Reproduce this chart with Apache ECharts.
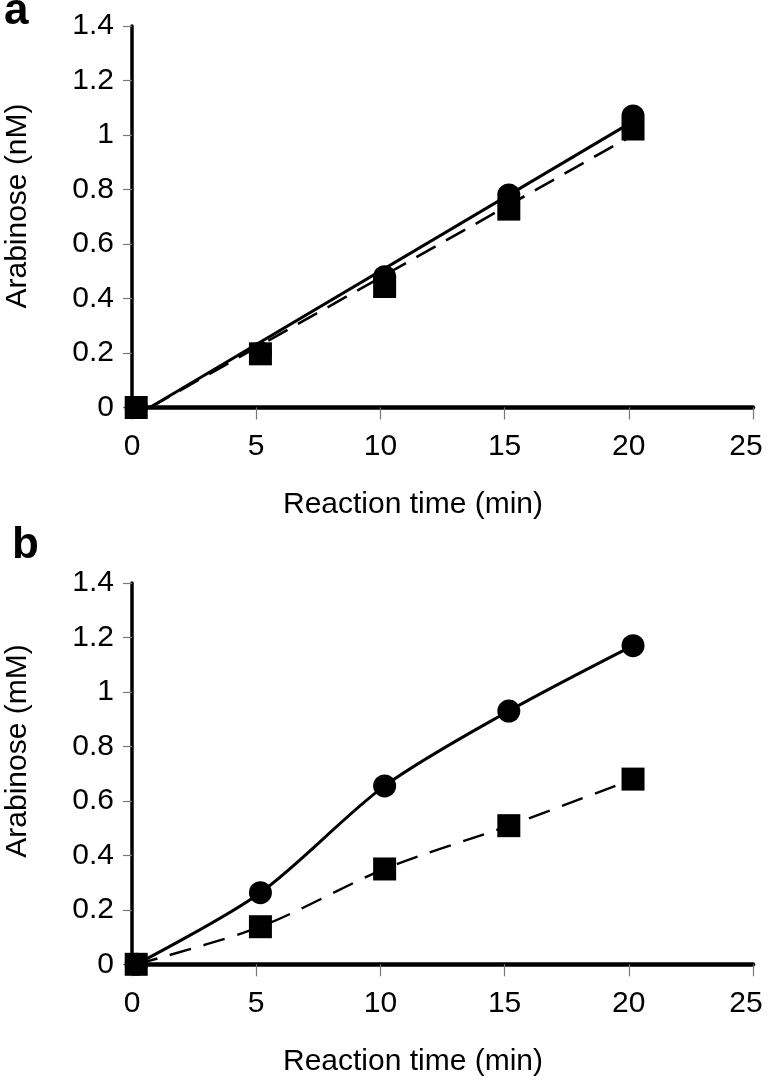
<!DOCTYPE html>
<html>
<head>
<meta charset="utf-8">
<script src="https://cdn.jsdelivr.net/npm/echarts@6/dist/echarts.min.js"></script>
<style>
html,body{margin:0;padding:0;background:#fff;}
#c{width:767px;height:1084px;}
</style>
</head>
<body>
<div id="c"></div>
<script>
// ---- data ----
var times = [0.17, 5.17, 10.17, 15.17, 20.17];          // reaction time (min)
var circlesA = [0, 0.20, 0.48, 0.78, 1.07];            // panel a, circles (nM)
var squaresA = [0, 0.197, 0.444, 0.728, 1.022];        // panel a, squares (nM)
var fitSolidA = [[0.72, 0], [20.17, 1.05]];            // panel a, linear trend (solid)
var fitDashedA = [[0.72, 0], [20.17, 1.00]];           // panel a, linear trend (dashed)
var circlesB = [0, 0.263, 0.655, 0.93, 1.17];          // panel b, circles (mM)
var squaresB = [0, 0.138, 0.35, 0.509, 0.68];          // panel b, squares (mM)
var xTicks = [0, 5, 10, 15, 20, 25];
var yTicks = [0, 0.2, 0.4, 0.6, 0.8, 1, 1.2, 1.4];
var xTitle = 'Reaction time (min)';
var yTitleA = 'Arabinose (nM)';
var yTitleB = 'Arabinose (mM)';

function pairs(xs, ys) { return xs.map(function (x, i) { return [x, ys[i]]; }); }

var FONT = '"Liberation Sans", Arial, Helvetica, sans-serif';
var FS = 30;

function xAxisFor(gi) {
  return {
    gridIndex: gi, type: 'value', min: xTicks[0], max: xTicks[xTicks.length - 1], interval: 5,
    axisLine: { lineStyle: { color: '#000', width: 4.5 } },
    axisTick: { length: 12, lineStyle: { color: '#777', width: 1.2 } },
    axisLabel: {
      color: '#000', fontSize: FS, fontFamily: FONT, margin: 24,
      formatter: function (v) { return v === 25 ? '{l|25}' : String(v); },
      rich: { l: { fontSize: FS, fontFamily: FONT, color: '#000', padding: [0, 14, 0, 0] } }
    },
    splitLine: { show: false }
  };
}
function yAxisFor(gi) {
  return {
    gridIndex: gi, type: 'value', min: yTicks[0], max: yTicks[yTicks.length - 1], interval: 0.2,
    axisLine: { show: true, lineStyle: { color: '#000', width: 3.5 } },
    axisTick: { show: true, length: 9, lineStyle: { color: '#777', width: 1.2 } },
    axisLabel: { color: '#000', fontSize: FS, fontFamily: FONT, margin: 18 },
    splitLine: { show: false }
  };
}

var markerCommon = { type: 'line', symbolSize: 23, itemStyle: { color: '#000' }, lineStyle: { width: 0, opacity: 0 }, z: 5, silent: true };

function txt(text, x, y, rot, font) {
  return { type: 'text', x: x, y: y, rotation: rot,
    style: { text: text, font: font, fill: '#000', align: 'center', verticalAlign: 'middle' } };
}

var option = {
  animation: false,
  backgroundColor: '#fff',
  grid: [
    { left: 132, top: 26, width: 621, height: 381.5 },
    { left: 132, top: 583, width: 621, height: 381.3 }
  ],
  xAxis: [xAxisFor(0), xAxisFor(1)],
  yAxis: [yAxisFor(0), yAxisFor(1)],
  series: [
    // panel a trend lines
    { type: 'line', xAxisIndex: 0, yAxisIndex: 0, data: fitSolidA, showSymbol: false,
      lineStyle: { color: '#000', width: 3 }, z: 3 },
    { type: 'line', xAxisIndex: 0, yAxisIndex: 0, data: fitDashedA, showSymbol: false,
      lineStyle: { color: '#000', width: 2.6, type: [22, 12] }, z: 3 },
    // panel a markers
    Object.assign({}, markerCommon, { xAxisIndex: 0, yAxisIndex: 0, symbol: 'circle', data: pairs(times, circlesA) }),
    Object.assign({}, markerCommon, { xAxisIndex: 0, yAxisIndex: 0, symbol: 'rect', data: pairs(times, squaresA) }),
    // panel b smoothed lines
    { type: 'line', xAxisIndex: 1, yAxisIndex: 1, data: pairs(times, circlesB), showSymbol: false, smooth: 0.3,
      lineStyle: { color: '#000', width: 3 }, z: 3 },
    { type: 'line', xAxisIndex: 1, yAxisIndex: 1, data: pairs(times, squaresB), showSymbol: false, smooth: 0.3,
      lineStyle: { color: '#000', width: 2.4, type: [22, 13] }, z: 3 },
    // panel b markers
    Object.assign({}, markerCommon, { xAxisIndex: 1, yAxisIndex: 1, symbol: 'circle', data: pairs(times, circlesB) }),
    Object.assign({}, markerCommon, { xAxisIndex: 1, yAxisIndex: 1, symbol: 'rect', data: pairs(times, squaresB) })
  ],
  graphic: [
    txt(yTitleA, 18, 206, Math.PI / 2, FS + 'px ' + FONT),
    txt(yTitleB, 18, 751, Math.PI / 2, FS + 'px ' + FONT),
    txt(xTitle, 413, 505, 0, FS + 'px ' + FONT),
    txt(xTitle, 413, 1062, 0, FS + 'px ' + FONT),
    { type: 'text', x: 4, y: 12,
      style: { text: 'a', font: 'bold 44px ' + FONT, fill: '#000', align: 'left', verticalAlign: 'middle' } },
    { type: 'text', x: 12, y: 546,
      style: { text: 'b', font: 'bold 44px ' + FONT, fill: '#000', align: 'left', verticalAlign: 'middle' } }
  ]
};

var chart = echarts.init(document.getElementById('c'), null, { renderer: 'canvas' });
chart.setOption(option);
</script>
</body>
</html>
